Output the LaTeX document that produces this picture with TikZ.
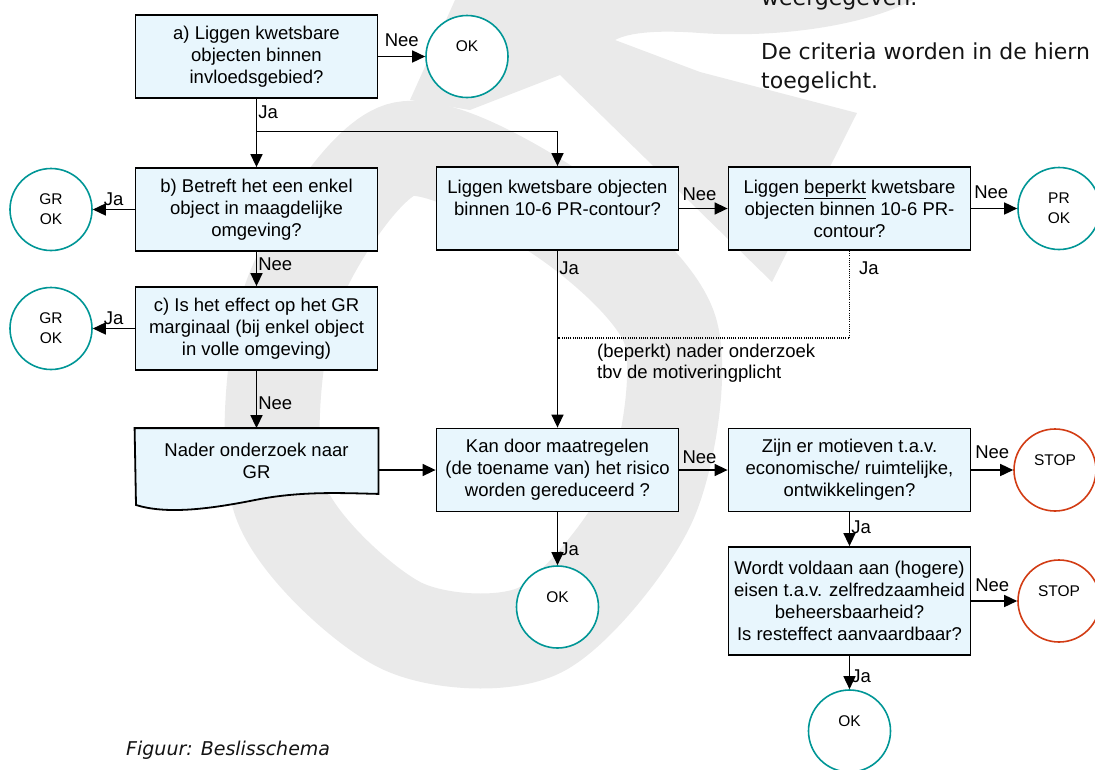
\documentclass[tikz,border=0pt]{standalone}
\usepackage{fontspec}
\setmainfont{Liberation Sans}
\newfontfamily\verd{DejaVu Sans}
\usetikzlibrary{arrows.meta}
\definecolor{boxfill}{RGB}{232,246,253}
\definecolor{okteal}{RGB}{0,150,150}
\definecolor{stopred}{RGB}{210,60,20}
\definecolor{wm}{RGB}{234,234,234}
\definecolor{textc}{RGB}{20,20,20}
\begin{document}
\begin{tikzpicture}[x=1pt,y=-1pt,
  box/.style={draw=black,line width=1.8pt,fill=boxfill,minimum width=242pt,minimum height=83pt,inner sep=0pt,align=center,font=\fontsize{18.5}{22}\selectfont},
  endc/.style={circle,draw=okteal,line width=1.6pt,fill=white,minimum size=82pt,inner sep=0pt,align=center,font=\fontsize{15.5}{20}\selectfont},
  stopc/.style={endc,draw=stopred},
  conn/.style={line width=1.5pt,-{Triangle[length=13pt,width=12pt]}},
  lbl/.style={font=\fontsize{18.5}{22}\selectfont,inner sep=1pt},
  hlbl/.style={lbl,inner sep=0pt},
  dotc/.style={line width=1.3pt,dash pattern=on 1.1pt off 1.1pt},
]
\useasboundingbox (0,0) rectangle (1095,769);
% watermark
\fill[wm] (455,0) -- (913,0) .. controls (860,28) and (770,38) .. (700,33)
  .. controls (660,30) and (630,32) .. (615,40) -- (700,72) -- (857,113)
  -- (772,282) -- (560,75) -- (470,110) -- (410,100) -- cycle;
\draw[wm,line width=95pt] plot[smooth cycle] coordinates {(400,150) (560,215) (670,330) (650,500) (540,630) (400,625) (280,500) (290,300)};
% top text
\node[anchor=base west,inner sep=0pt,font=\verd\fontsize{22}{29}\selectfont,text=textc] (t0) at (761,5) {weergegeven.};
\node[anchor=base west,inner sep=0pt,font=\verd\fontsize{22}{29}\selectfont,text=textc] (t1) at (761,59) {De criteria worden in de hiern};
\node[anchor=base west,inner sep=0pt,font=\verd\fontsize{22}{29}\selectfont,text=textc] (t2) at (761,88) {toegelicht.};
% boxes
\node[box] (a) at (256.5,56.5) {a) Liggen kwetsbare\\objecten binnen\\invloedsgebied?};
\node[box] (b) at (256.5,209.5) {b) Betreft het een enkel\\object in maagdelijke\\omgeving?};
\node[box] (c) at (256.5,328.5) {c) Is het effect op het GR\\marginaal (bij enkel object\\in volle omgeving)};
\node[box,draw=none,fill=none,minimum height=64pt] (nader) at (256.5,461) {\phantom{Nader onderzoek naar}\\\phantom{GR}};
\node[box] (mid) at (557.5,208.5) {Liggen kwetsbare objecten\\binnen 10-6 PR-contour?\\\mbox{}};
\node[box] (right) at (849.5,208.5) {Liggen \underline{beperkt} kwetsbare\\objecten binnen 10-6 PR-\\contour?};
\node[box] (kan) at (557.5,470) {Kan door maatregelen\\(de toename van) het risico\\worden gereduceerd ?};
\node[box] (zijn) at (849.5,470) {Zijn er motieven t.a.v.\\economische/ ruimtelijke,\\ontwikkelingen?};
\node[box,minimum height=108pt] (wordt) at (849.5,601) {Wordt voldaan aan (hogere)\\eisen t.a.v. zelfredzaamheid\\beheersbaarheid?\\Is resteffect aanvaardbaar?};
% document shape for nader
\draw[line width=1.8pt,fill=boxfill] (nader.south east) -- (nader.north east) -- (nader.north west)
  -- (136,505) .. controls (165,514) and (205,510) .. (255,500) .. controls (300,491) and (340,493) .. (nader.south east) -- cycle;
\node[align=center,inner sep=0pt,font=\fontsize{18.5}{22}\selectfont] (nadertext) at (nader) {Nader onderzoek naar\\GR};
% end circles
\node[endc] (ok1) at (467,56.5) {OK\\\mbox{}};
\node[endc] (gr1) at (51,209.5) {GR\\OK};
\node[endc] (gr2) at (51,328.5) {GR\\OK};
\node[endc] (pr) at (1059,208.5) {PR\\OK};
\node[stopc] (stop1) at (1055,470) {STOP\\\mbox{}};
\node[stopc] (stop2) at (1059,601) {STOP\\\mbox{}};
\node[endc] (ok2) at (557.5,607) {OK\\\mbox{}};
\node[endc] (ok3) at (849.5,731) {OK\\\mbox{}};
% connectors
\coordinate (split) at (256.5,131.5);
\coordinate (djoin) at (557.5,338);
\draw[conn] (a) -- node[hlbl,above=9pt]{Nee} (ok1);
\draw[conn] (a) -- node[lbl,right,pos=0.2]{Ja} (b);
\draw[conn] (split) -| (mid);
\draw[conn] (b) -- node[hlbl,above=3pt]{Ja} (gr1);
\draw[conn] (b) -- node[lbl,right,pos=0.35]{Nee} (c);
\draw[conn] (c) -- node[hlbl,above=3pt]{Ja} (gr2);
\draw[conn] (c) -- node[lbl,right,pos=0.56]{Nee} (nader);
\draw[conn] (nader.east |- kan) -- (kan);
\draw[conn] (mid) -- node[lbl,right,pos=0.1]{Ja} (kan);
\draw[conn] (mid) -- node[hlbl,above=7pt,xshift=-4pt]{Nee} (right);
\draw[conn] (right) -- node[hlbl,above=9pt,xshift=-3pt]{Nee} (pr);
\draw[dotc] (right) |- node[lbl,right,pos=0.1,xshift=8pt]{Ja} (djoin);
\node[anchor=north west,inner sep=0pt,align=left,font=\fontsize{18.5}{21}\selectfont] (note) at (597,343.5) {(beperkt) nader onderzoek\\tbv de motiveringplicht};
\draw[conn] (kan) -- node[hlbl,above=6pt,xshift=-4pt]{Nee} (zijn);
\draw[conn] (kan) -- node[lbl,right,pos=0.7]{Ja} (ok2);
\draw[conn] (zijn) -- node[hlbl,above=11pt]{Nee} (stop1);
\draw[conn] (zijn) -- node[lbl,right,pos=0.45]{Ja} (wordt);
\draw[conn] (wordt) -- node[hlbl,above=9pt,xshift=-2pt]{Nee} (stop2);
\draw[conn] (wordt) -- node[lbl,right,pos=0.6]{Ja} (ok3);
% caption
\node[anchor=base west,inner sep=0pt,font=\verd\itshape\fontsize{19}{23}\selectfont,text=textc] (cap) at (126,755) {Figuur: Beslisschema};
\end{tikzpicture}
\end{document}
